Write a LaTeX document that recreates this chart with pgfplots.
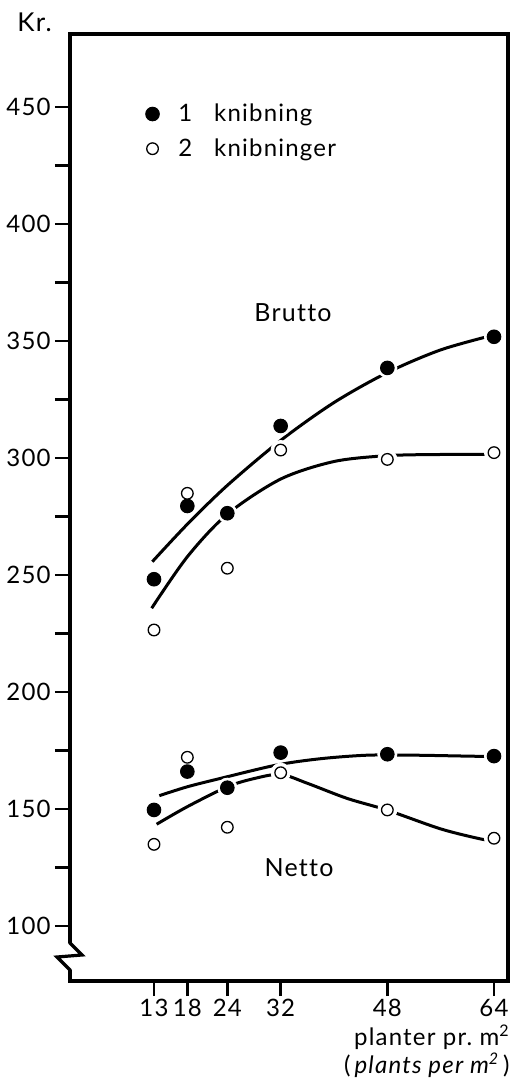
\documentclass[border=0pt]{standalone}
\usepackage{pgfplots}
\pgfplotsset{compat=1.18}
\usepackage{fontspec}
\setmainfont{Lato}[LetterSpace=5, Ligatures=NoCommon]
\newcommand\chfont{\fontsize{12}{14}\selectfont}
\begin{document}
\begin{tikzpicture}
\begin{axis}[
  scale only axis, width=219pt, height=473.5pt,
  xmin=0.4, xmax=66.1, ymin=76.5, ymax=481.2,
  axis line style={line width=1.6pt},
  xtick={13,18,24,32,48,64},
  ytick={100,150,...,450},
  minor ytick={125,175,...,425},
  tick align=outside, xtick pos=bottom, ytick pos=left,
  major tick length=7.5pt, minor tick length=7.5pt,
  every tick/.style={line width=1.3pt, black},
  /pgf/number format/assume math mode=true,
  ticklabel style={font=\chfont},
  xticklabel style={inner sep=1pt, yshift=-0.5pt},
  yticklabel style={inner sep=1pt, xshift=-1pt},
  clip=false,
  legend style={draw=none, fill=none, at={(rel axis cs:0.172,0.93)}, anchor=north west,
    font=\chfont, row sep=4pt, inner sep=0pt, nodes={inner sep=1.5pt}},
  legend cell align=left,
]
% fitted curves
\addplot[forget plot, smooth, line width=1.5pt] coordinates {
  (12.75,255.7) (18,271.7) (24,288.3) (32,307.5) (40,323.7) (48,336.5) (56,346.2) (64,352.6)};
\addplot[forget plot, smooth, line width=1.5pt] coordinates {
  (12.65,235.8) (18,257.8) (24,276) (32,291) (40,298.5) (48,301) (56,301.5) (64,301.5)};
\addplot[forget plot, smooth, line width=1.5pt] coordinates {
  (13.8,155.7) (18,159.5) (23,163.1) (31.4,168.8) (38,171.5) (45,173) (52,173) (60,172.6) (64,172.4)};
\addplot[forget plot, smooth, line width=1.5pt] coordinates {
  (13.4,143.5) (18,151) (24,159.5) (28,163) (32,164.8) (36,161) (42,154.5) (48,149.5) (56,141.5) (62,137.2) (64,136.5)};
% white halos (gaps in the curves)
\addplot[forget plot, only marks, mark=*, mark size=4.8pt, white, mark options={draw=white, fill=white}] coordinates {
  (13,248.2) (18,279.5) (24,276.4) (32,313.7) (48,338.5) (64,351.8)
  (13,149.6) (18,166) (24,159.1) (32,174.1) (48,173.4) (64,172.6)
  (13,226.5) (18,284.9) (24,252.9) (32,303.4) (48,299.4) (64,302.3)
  (13,134.9) (18,172.1) (24,142.2) (32,165.5) (48,149.6) (64,137.5)};
% 1 knibning
\addplot[only marks, mark=*, mark size=3.4pt, mark options={draw=black, fill=black, line width=0.5pt}] coordinates {
  (13,248.2) (18,279.5) (24,276.4) (32,313.7) (48,338.5) (64,351.8)
  (13,149.6) (18,166) (24,159.1) (32,174.1) (48,173.4) (64,172.6)};
\addlegendentry{\hspace{8pt}1\hspace{11pt}knibning}
% 2 knibninger
\addplot[only marks, mark=*, mark size=2.9pt, mark options={draw=black, fill=white, line width=0.65pt}] coordinates {
  (13,226.5) (18,284.9) (24,252.9) (32,303.4) (48,299.4) (64,302.3)
  (13,134.9) (18,172.1) (24,142.2) (32,165.5) (48,149.6) (64,137.5)};
\addlegendentry{\hspace{8pt}2\hspace{11pt}knibninger}
\end{axis}
% axis break on the y axis
\draw[white, line width=3pt] (0pt,5.5pt) -- (0pt,19pt);
\draw[black, line width=1.6pt, line join=miter] (0pt,4pt) -- (0pt,5.5pt) -- (-6.5pt,12pt) -- (6pt,13pt) -- (0pt,19pt) -- (0pt,20.5pt);
% texts
\node[anchor=base west, font=\fontsize{13}{15}\selectfont, inner sep=0pt] at (-26.5pt,474.5pt) {Kr.};
\node[font=\fontsize{12.5}{15}\selectfont] at (111.5pt,334pt) {Brutto};
\node[font=\fontsize{12.5}{15}\selectfont] at (114.5pt,56.5pt) {Netto};
\node[anchor=north east, align=right, font=\chfont, inner sep=0pt] at (220pt,-22pt)
  {planter pr.\ m\textsuperscript{2}\\[0pt](\,\textit{plants per m\textsuperscript{2}}\,)};
% page size
\pgfresetboundingbox
\useasboundingbox (-35pt,-55pt) rectangle (221.5pt,490.5pt);
\end{tikzpicture}
\end{document}
